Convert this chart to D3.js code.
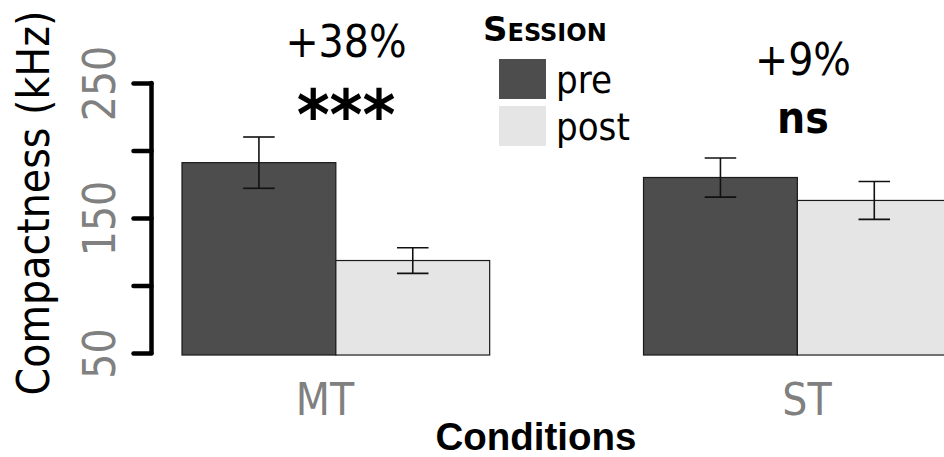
<!DOCTYPE html>
<html>
<head>
<meta charset="utf-8">
<script src="https://cdn.jsdelivr.net/npm/d3@7"></script>
<style>
  html, body { margin: 0; padding: 0; background: #fff; overflow: hidden; }
  svg { display: block; }
  .cond { font-family: "DejaVu Sans Condensed", "DejaVu Sans", sans-serif; font-stretch: condensed; }
</style>
</head>
<body>
<svg id="chart" width="944" height="457"></svg>
<script>
// ---- data ----
const categories = ["MT", "ST"];
const sessions = ["pre", "post"];
const preMeans = [191, 180];
const preErrors = [19, 14.5];
const postMeans = [118.5, 163];
const postErrors = [9.5, 14];
const yTicks = [50, 100, 150, 200, 250];
const yTickLabels = ["50", "", "150", "", "250"];
const changeLabels = ["+38%", "+9%"];
const sigLabels = ["***", "ns"];

const colors = { pre: "#4d4d4d", post: "#e5e5e5" };

const svg = d3.select("#chart");

// scales
const y = d3.scaleLinear().domain([50, 250]).range([353, 83]);
const yFloor = 48.5; // panel lower limit
const x0 = d3.scaleBand().domain(categories).range([182, 951.2]).paddingInner(1/3).paddingOuter(0);
const x1 = d3.scaleBand().domain(sessions).range([0, x0.bandwidth()]);
const xLabel = d3.scalePoint().domain(categories).range([325, 807]);

const data = [];
categories.forEach((c, i) => {
  data.push({ cat: c, session: "pre", mean: preMeans[i], err: preErrors[i] });
  data.push({ cat: c, session: "post", mean: postMeans[i], err: postErrors[i] });
});

// bars
const g = svg.append("g");
g.selectAll("rect.bar").data(data).enter().append("rect")
  .attr("class", "bar")
  .attr("x", d => x0(d.cat) + x1(d.session))
  .attr("y", d => y(d.mean))
  .attr("width", x1.bandwidth())
  .attr("height", d => y(yFloor) - y(d.mean))
  .attr("fill", d => colors[d.session])
  .attr("stroke", "#1a1a1a")
  .attr("stroke-width", 1.2);

// error bars
const capW = x1.bandwidth() * 0.205;
const cx = d => x0(d.cat) + x1(d.session) + x1.bandwidth() / 2;
const eb = g.selectAll("g.eb").data(data).enter().append("g").attr("class", "eb")
  .attr("stroke", "#111").attr("stroke-width", 1.6);
eb.append("line")
  .attr("x1", cx).attr("x2", cx)
  .attr("y1", d => y(d.mean + d.err))
  .attr("y2", d => y(d.mean - d.err));
eb.append("line")
  .attr("x1", d => cx(d) - capW / 2).attr("x2", d => cx(d) + capW / 2)
  .attr("y1", d => y(d.mean + d.err)).attr("y2", d => y(d.mean + d.err));
eb.append("line")
  .attr("x1", d => cx(d) - capW / 2).attr("x2", d => cx(d) + capW / 2)
  .attr("y1", d => y(d.mean - d.err)).attr("y2", d => y(d.mean - d.err));

// y axis
const yAxis = d3.axisLeft(y).tickValues(yTicks).tickSize(18).tickFormat((d, i) => yTickLabels[i]);
const ya = svg.append("g").attr("transform", "translate(151.5,0)").call(yAxis);
ya.select(".domain").remove();
ya.selectAll(".tick line").attr("stroke", "#000").attr("stroke-width", 4.5).attr("stroke-linecap", "round");
ya.append("line").attr("x1", 0).attr("x2", 0).attr("y1", y(50)).attr("y2", y(250))
  .attr("stroke", "#000").attr("stroke-width", 4.5).attr("stroke-linecap", "round");
ya.selectAll(".tick text")
  .attr("class", "cond")
  .attr("font-size", 44)
  .attr("fill", "#808080")
  .attr("x", null).attr("dy", null)
  .attr("text-anchor", "middle")
  .attr("transform", "translate(-37,0) rotate(-90)");

// y title
svg.append("text").attr("class", "cond")
  .attr("transform", "translate(49,203) rotate(-90)")
  .attr("text-anchor", "middle")
  .attr("font-size", 44)
  .attr("fill", "#000")
  .text("Compactness (kHz)");

// x tick labels
svg.selectAll("text.xlab").data(categories).enter().append("text")
  .attr("class", "cond xlab")
  .attr("x", d => xLabel(d)).attr("y", 415)
  .attr("text-anchor", "middle")
  .attr("font-size", 44)
  .attr("fill", "#808080")
  .text(d => d);

// x title
svg.append("text")
  .attr("x", 536).attr("y", 450)
  .attr("text-anchor", "middle")
  .attr("font-family", "'Liberation Sans', Arial, sans-serif")
  .attr("font-weight", "bold")
  .attr("font-size", 38.5)
  .attr("fill", "#000")
  .text("Conditions");

// annotations
const annX = [346, 803];
const changeY = [57, 75];
const sigY = [139, 133];
svg.selectAll("text.chg").data(changeLabels).enter().append("text")
  .attr("class", "cond chg")
  .attr("x", (d, i) => annX[i]).attr("y", (d, i) => changeY[i])
  .attr("text-anchor", "middle")
  .attr("font-size", 44)
  .attr("fill", "#000")
  .text(d => d);
svg.selectAll("text.sig").data(sigLabels).enter().append("text")
  .attr("class", "cond sig")
  .attr("x", (d, i) => annX[i]).attr("y", (d, i) => sigY[i])
  .attr("text-anchor", "middle")
  .attr("font-weight", "bold")
  .attr("font-size", (d, i) => i === 0 ? 70 : 44)
  .attr("fill", "#000")
  .text(d => d);

// legend
const lg = svg.append("g");
lg.append("text")
  .attr("x", 483).attr("y", 41)
  .attr("font-family", "'DejaVu Sans', sans-serif")
  .attr("font-size", 34)
  .attr("font-weight", "bold")
  .style("font-variant", "small-caps")
  .text("Session");
const legY = d3.scalePoint().domain(sessions).range([59, 106]);
lg.selectAll("rect.key").data(sessions).enter().append("rect")
  .attr("x", 499).attr("y", d => legY(d))
  .attr("width", 47).attr("height", 40)
  .attr("fill", d => colors[d]);
lg.selectAll("text.key").data(sessions).enter().append("text")
  .attr("class", "cond key")
  .attr("x", 556).attr("y", d => legY(d) + 34)
  .attr("font-size", 38)
  .attr("fill", "#000")
  .text(d => d);
</script>
</body>
</html>
